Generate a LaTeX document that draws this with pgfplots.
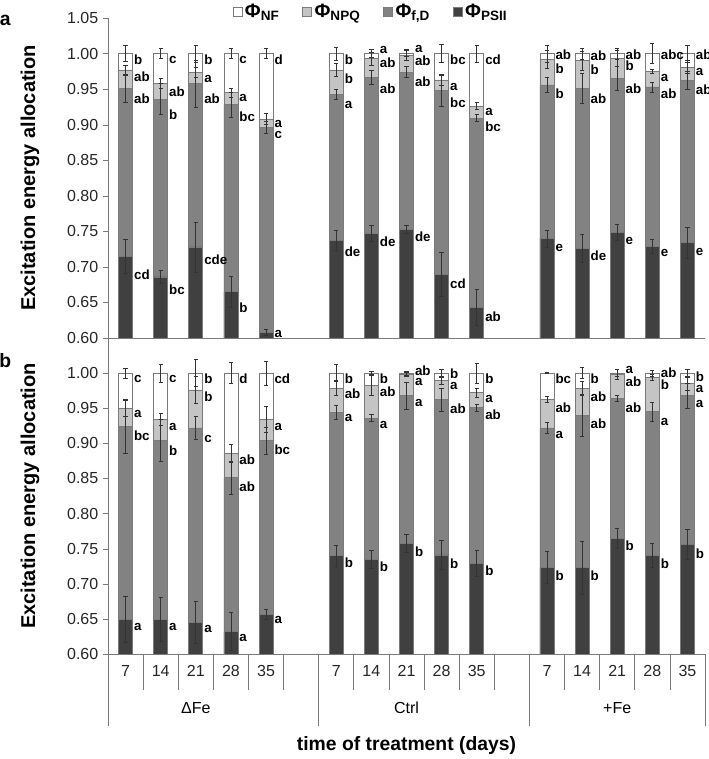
\documentclass[border=0pt]{standalone}
\usepackage{pgfplots}
\pgfplotsset{compat=1.18}
\usepackage{pgfplotstable}
\usepackage{fontspec}
\setmainfont{Liberation Sans}
\definecolor{cNPQ}{HTML}{C4C4C4}
\definecolor{cFD}{HTML}{828282}
\definecolor{cPS}{HTML}{404040}
\definecolor{edge}{HTML}{7A7A7A}

% x: slot; nf/npq/fd/ps: cumulative top of each segment; e*: error
\pgfplotstableread{
x  nf  npq   fd    ps    enf   enpq  efd   eps
0  1   0.977 0.951 0.715 0.011 0.007 0.020 0.024
1  1   0.958 0.936 0.686 0.007 0.007 0.022 0.009
2  1   0.974 0.958 0.728 0.012 0.007 0.033 0.035
3  1   0.945 0.928 0.665 0.007 0.006 0.017 0.022
4  1   0.908 0.896 0.608 0.007 0.008 0.008 0.004
6  1   0.977 0.942 0.737 0.009 0.009 0.007 0.014
7  1   0.993 0.967 0.747 0.006 0.009 0.010 0.011
8  1   0.998 0.974 0.753 0.004 0.008 0.008 0.006
9  1   0.963 0.948 0.690 0.013 0.008 0.022 0.031
10 1   0.926 0.909 0.643 0.012 0.005 0.005 0.025
12 1   0.992 0.956 0.740 0.012 0.013 0.011 0.012
13 1   0.990 0.951 0.726 0.008 0.013 0.021 0.020
14 1   0.993 0.965 0.749 0.008 0.011 0.017 0.011
15 1   0.975 0.953 0.729 0.014 0.003 0.007 0.010
16 1   0.981 0.962 0.734 0.012 0.009 0.013 0.022
}\dataA

\pgfplotstableread{
x  nf  npq   fd    ps    enf   enpq  efd   eps
0  1   0.950 0.924 0.649 0.007 0.011 0.038 0.033
1  1   0.934 0.904 0.649 0.013 0.009 0.030 0.031
2  1   0.976 0.922 0.645 0.019 0.019 0.016 0.030
3  1   0.886 0.851 0.632 0.015 0.013 0.023 0.027
4  1   0.934 0.904 0.656 0.017 0.019 0.019 0.007
6  1   0.979 0.944 0.740 0.012 0.011 0.010 0.015
7  1   0.983 0.936 0.735 0.002 0.014 0.005 0.013
8  1   0.998 0.968 0.758 0.003 0.003 0.019 0.013
9  1   0.990 0.962 0.741 0.006 0.006 0.017 0.021
10 1   0.972 0.951 0.729 0.014 0.006 0.005 0.019
12 1   0.963 0.922 0.723 0.001 0.004 0.008 0.023
13 1   0.978 0.940 0.723 0.008 0.010 0.030 0.038
14 1   0.998 0.964 0.765 0.005 0.007 0.004 0.014
15 1   0.994 0.945 0.740 0.004 0.004 0.014 0.017
16 1   0.985 0.968 0.756 0.006 0.010 0.018 0.021
}\dataB

\newcommand\lb[3]{\node[lbl] at (axis cs:#1,#2) {#3};}

\tikzset{lbl/.style={anchor=west, inner sep=0pt, xshift=6.2pt,
    font=\fontsize{10}{12}\selectfont\bfseries}}

\pgfplotsset{
  barax/.style={
    width=447.75pt, scale only axis,
    xmin=-0.5, xmax=16.5, ymin=0.6, ymax=1.05,
    axis x line*=bottom, axis y line*=left,
    axis line style={edge, -},
    tick align=outside, major tick length=3.75pt,
    ytick style={edge},
    /pgf/number format/fixed, /pgf/number format/fixed zerofill,
    /pgf/number format/precision=2, /pgf/number format/assume math mode=true,
    ticklabel style={font=\fontsize{12}{14}\selectfont, text=black!85},
    ylabel={Excitation energy allocation},
    ylabel style={font=\fontsize{15}{18}\selectfont\bfseries,
      at={(axis description cs:-0.1307,0.5)}, anchor=center},
    clip mode=individual,
    ybar, bar width=0.4,
  },
  bx/.style={draw=edge, line width=0.5pt, bar shift=0pt,
    legend image code/.code={\draw[##1] (0pt,-3.4pt) rectangle (6.8pt,3.4pt);}},
  eb/.style={forget plot, sharp plot, draw=none, mark=none, bar shift=0pt,
    error bars/.cd, y dir=both, y explicit,
    error bar style={black!80, line width=0.5pt},
    error mark options={rotate=90, mark size=1.6pt, black!80, line width=0.5pt}},
}

\begin{document}
\begin{tikzpicture}
\useasboundingbox (0,0) rectangle (531.75pt,-569.25pt);
\node[font=\fontsize{14.5}{16}\selectfont\bfseries] at (4pt,-15pt) {a};
\node[font=\fontsize{14.5}{16}\selectfont\bfseries] at (4pt,-270.75pt) {b};

% ---------------- panel a ----------------
\begin{axis}[barax, at={(81pt,-253.5pt)}, anchor=south west, height=240pt,
  xtick=\empty,
  ytick={0.6,0.65,0.7,0.75,0.8,0.85,0.9,0.95,1.0,1.05},
  legend style={at={(axis description cs:0.441,1.019)}, anchor=center,
    draw=none, fill=none, legend columns=4,
    font=\fontsize{14.5}{16}\selectfont\bfseries,
    /tikz/every even column/.append style={column sep=15pt}},
]
\addplot[bx, fill=white] table[x=x, y=nf] {\dataA};
\addlegendentry{Φ\textsubscript{NF}}
\addplot[bx, fill=cNPQ] table[x=x, y=npq] {\dataA};
\addlegendentry{Φ\textsubscript{NPQ}}
\addplot[bx, fill=cFD] table[x=x, y=fd] {\dataA};
\addlegendentry{Φ\textsubscript{f,D}}
\addplot[bx, fill=cPS] table[x=x, y=ps] {\dataA};
\addlegendentry{Φ\textsubscript{PSII}}
\addplot[eb] table[x=x, y=nf, y error=enf] {\dataA};
\addplot[eb] table[x=x, y=npq, y error=enpq] {\dataA};
\addplot[eb] table[x=x, y=fd, y error=efd] {\dataA};
\addplot[eb] table[x=x, y=ps, y error=eps] {\dataA};
\lb{0}{0.991}{b}\lb{0}{0.968}{ab}\lb{0}{0.936}{ab}\lb{0}{0.689}{cd}
\lb{1}{0.991}{c}\lb{1}{0.947}{ab}\lb{1}{0.914}{b}\lb{1}{0.668}{bc}
\lb{2}{0.991}{b}\lb{2}{0.964}{a}\lb{2}{0.936}{ab}\lb{2}{0.710}{cde}
\lb{3}{0.991}{c}\lb{3}{0.937}{a}\lb{3}{0.911}{bc}\lb{3}{0.643}{b}
\lb{4}{0.992}{d}\lb{4}{0.901}{a}\lb{4}{0.885}{c}\lb{4}{0.605}{a}
\lb{6}{0.991}{b}\lb{6}{0.965}{b}\lb{6}{0.927}{a}\lb{6}{0.722}{de}
\lb{7}{1.005}{a}\lb{7}{0.987}{ab}\lb{7}{0.951}{ab}\lb{7}{0.736}{de}
\lb{8}{1.006}{a}\lb{8}{0.990}{ab}\lb{8}{0.961}{ab}\lb{8}{0.742}{de}
\lb{9}{0.991}{bc}\lb{9}{0.953}{a}\lb{9}{0.931}{bc}\lb{9}{0.677}{cd}
\lb{10}{0.991}{cd}\lb{10}{0.918}{a}\lb{10}{0.897}{bc}\lb{10}{0.630}{ab}
\lb{12}{0.998}{ab}\lb{12}{0.979}{b}\lb{12}{0.943}{b}\lb{12}{0.727}{e}
\lb{13}{0.997}{ab}\lb{13}{0.977}{b}\lb{13}{0.937}{ab}\lb{13}{0.715}{de}
\lb{14}{0.999}{ab}\lb{14}{0.983}{b}\lb{14}{0.951}{ab}\lb{14}{0.737}{e}
\lb{15}{0.998}{abc}\lb{15}{0.965}{a}\lb{15}{0.943}{ab}\lb{15}{0.719}{e}
\lb{16}{0.998}{ab}\lb{16}{0.974}{a}\lb{16}{0.949}{ab}\lb{16}{0.721}{e}
\end{axis}

% ---------------- panel b ----------------
\begin{axis}[barax, at={(81pt,-490.5pt)}, anchor=south west, height=237pt,
  ytick={0.6,0.65,0.7,0.75,0.8,0.85,0.9,0.95,1.0},
  xtick={0,1,2,3,4,6,7,8,9,10,12,13,14,15,16},
  xticklabels={7,14,21,28,35,7,14,21,28,35,7,14,21,28,35},
  xtick style={draw=none},
  xticklabel style={anchor=center, yshift=-9pt},
  xlabel={time of treatment (days)},
  xlabel style={at={(axis description cs:0.5,0)}, anchor=center,
    yshift=-68.25pt, font=\fontsize{14.5}{17}\selectfont\bfseries},
]
\addplot[bx, fill=white] table[x=x, y=nf] {\dataB};
\addplot[bx, fill=cNPQ] table[x=x, y=npq] {\dataB};
\addplot[bx, fill=cFD] table[x=x, y=fd] {\dataB};
\addplot[bx, fill=cPS] table[x=x, y=ps] {\dataB};
\addplot[eb] table[x=x, y=nf, y error=enf] {\dataB};
\addplot[eb] table[x=x, y=npq, y error=enpq] {\dataB};
\addplot[eb] table[x=x, y=fd, y error=efd] {\dataB};
\addplot[eb] table[x=x, y=ps, y error=eps] {\dataB};
\lb{0}{0.992}{c}\lb{0}{0.942}{a}\lb{0}{0.911}{bc}\lb{0}{0.639}{a}
\lb{1}{0.992}{c}\lb{1}{0.924}{a}\lb{1}{0.890}{b}\lb{1}{0.639}{a}
\lb{2}{0.992}{b}\lb{2}{0.966}{b}\lb{2}{0.906}{c}\lb{2}{0.636}{a}
\lb{3}{0.992}{d}\lb{3}{0.876}{ab}\lb{3}{0.838}{ab}\lb{3}{0.623}{a}
\lb{4}{0.992}{cd}\lb{4}{0.924}{a}\lb{4}{0.891}{bc}\lb{4}{0.648}{a}
\lb{6}{0.992}{b}\lb{6}{0.970}{ab}\lb{6}{0.936}{a}\lb{6}{0.730}{b}
\lb{7}{0.992}{b}\lb{7}{0.973}{ab}\lb{7}{0.926}{a}\lb{7}{0.724}{b}
\lb{8}{1.004}{ab}\lb{8}{0.988}{a}\lb{8}{0.957}{a}\lb{8}{0.745}{b}
\lb{9}{0.999}{b}\lb{9}{0.982}{a}\lb{9}{0.949}{ab}\lb{9}{0.729}{b}
\lb{10}{0.992}{b}\lb{10}{0.963}{a}\lb{10}{0.941}{ab}\lb{10}{0.718}{b}
\lb{12}{0.992}{bc}\lb{12}{0.951}{ab}\lb{12}{0.912}{a}\lb{12}{0.712}{b}
\lb{13}{0.992}{b}\lb{13}{0.967}{ab}\lb{13}{0.928}{ab}\lb{13}{0.712}{b}
\lb{14}{1.004}{a}\lb{14}{0.988}{ab}\lb{14}{0.951}{ab}\lb{14}{0.754}{b}
\lb{15}{1.001}{ab}\lb{15}{0.983}{b}\lb{15}{0.931}{a}\lb{15}{0.729}{b}
\lb{16}{0.995}{b}\lb{16}{0.977}{a}\lb{16}{0.956}{a}\lb{16}{0.743}{b}
% category separators below the axis
\pgfplotsinvokeforeach{0.5,1.5,2.5,3.5,4.5,6.5,7.5,8.5,9.5,10.5,12.5,13.5,14.5,15.5}{
  \draw[edge, line width=0.5pt] (axis cs:#1,0.6) -- ++(0pt,-27pt);}
\pgfplotsinvokeforeach{-0.5,5.5,11.5,16.5}{
  \draw[edge, line width=0.5pt] (axis cs:#1,0.6) -- ++(0pt,-54pt);}
\node[font=\fontsize{12}{14}\selectfont] at (axis cs:2,0.6)  [yshift=-40.5pt] {ΔFe};
\node[font=\fontsize{12}{14}\selectfont] at (axis cs:8,0.6)  [yshift=-40.5pt] {Ctrl};
\node[font=\fontsize{12}{14}\selectfont] at (axis cs:14,0.6) [yshift=-40.5pt] {+Fe};
\end{axis}
\end{tikzpicture}
\end{document}
